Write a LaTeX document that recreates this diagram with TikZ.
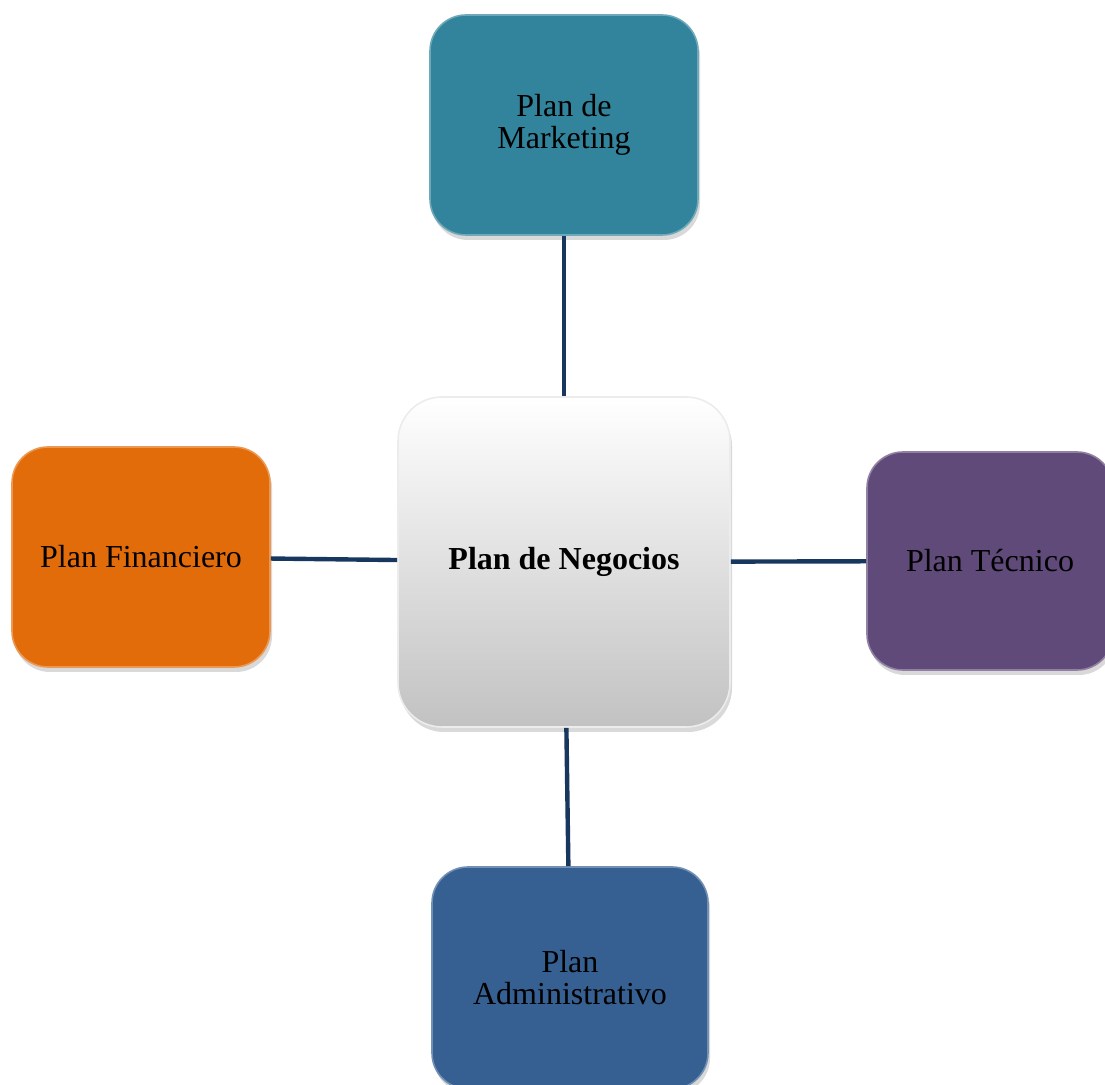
\documentclass[tikz,border=0pt]{standalone}
\usepackage{fontspec}
\setmainfont{Liberation Serif}
\usetikzlibrary{shadows}
\definecolor{mktcol}{RGB}{49,132,155}
\definecolor{fincol}{RGB}{227,108,10}
\definecolor{teccol}{RGB}{96,74,122}
\definecolor{admcol}{RGB}{54,96,146}
\definecolor{linkcol}{RGB}{23,55,94}

\begin{document}
\begin{tikzpicture}[x=0.5pt, y=-0.5pt,
  plan/.style={rounded corners=18pt, minimum width=129pt, minimum height=110pt,
    inner sep=0pt, align=center, font=\fontsize{16}{16}\selectfont,
    draw=#1!70!white, line width=0.8pt, fill=#1,
    drop shadow={shadow xshift=1pt, shadow yshift=-2.5pt, opacity=0.3}},
  link/.style={line width=2.2pt, draw=linkcol}]

  \path[use as bounding box] (0,0) rectangle (1105,1085);
  \clip (0,0) rectangle (1105,1085);

  %% center box
  \node[plan=white, draw=gray!15, top color=white, bottom color=gray!48,
        minimum width=166pt, minimum height=165pt, rounded corners=22pt,
        font=\fontsize{16}{16}\selectfont\bfseries] (neg) at (564,562) {Plan de Negocios};

  %% the four plans
  \node[plan=mktcol, minimum width=134pt] (mkt) at (564,125) {Plan de\\Marketing};
  \node[plan=fincol] (fin) at (141,557) {Plan Financiero};
  \node[plan=teccol, minimum width=123pt, minimum height=109pt] (tec) at (990,561) {Plan Técnico};
  \node[plan=admcol, minimum width=138pt, minimum height=111pt] (adm) at (570,978) {Plan\\Administrativo};

  \draw[link] (mkt) -- (neg); % top
  \draw[link] (neg) -- (adm); % bottom
  \draw[link] (fin) -- (neg); % left
  \draw[link] (neg) -- (tec); % right

\end{tikzpicture}
\end{document}
